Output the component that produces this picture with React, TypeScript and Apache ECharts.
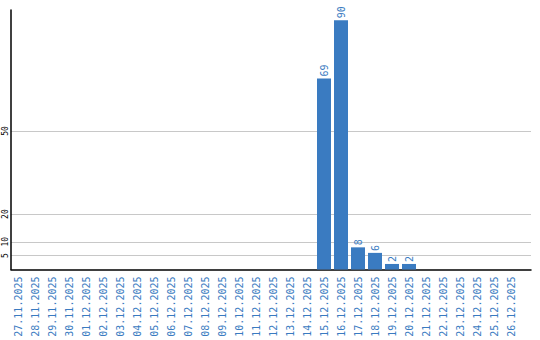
import React, { useEffect, useRef } from "react";
import * as echarts from "echarts";

const categories: string[] = [
  "27.11.2025", "28.11.2025", "29.11.2025", "30.11.2025",
  "01.12.2025", "02.12.2025", "03.12.2025", "04.12.2025", "05.12.2025",
  "06.12.2025", "07.12.2025", "08.12.2025", "09.12.2025", "10.12.2025",
  "11.12.2025", "12.12.2025", "13.12.2025", "14.12.2025", "15.12.2025",
  "16.12.2025", "17.12.2025", "18.12.2025", "19.12.2025", "20.12.2025",
  "21.12.2025", "22.12.2025", "23.12.2025", "24.12.2025", "25.12.2025",
  "26.12.2025",
];
const values: number[] = [
  0, 0, 0, 0, 0, 0, 0, 0, 0, 0, 0, 0, 0, 0, 0, 0, 0, 0,
  69, 90, 8, 6, 2, 2, 0, 0, 0, 0, 0, 0,
];
const yTicks: number[] = [5, 10, 20, 50];
const yMax = 93.7;

const BLUE = "#3a7bc1";
const MONO = "DejaVu Sans Mono";

export default function App() {
  const ref = useRef<HTMLDivElement>(null);
  useEffect(() => {
    if (!ref.current) return;
    const chart = echarts.init(ref.current, null, { renderer: "svg" });
    chart.setOption({
      animation: false,
      backgroundColor: "#ffffff",
      grid: [
        { left: 11, width: 520, top: 10, height: 259.5 },
        { left: 9.5, width: 510, top: 10, height: 259.5 },
      ],
      xAxis: [
        {
          gridIndex: 0,
          type: "value",
          min: 0,
          max: 1,
          axisLine: { show: true, onZero: false, lineStyle: { color: "#000", width: 1.5 } },
          axisTick: { show: false },
          axisLabel: { show: false },
          splitLine: { show: false },
        },
        {
          gridIndex: 1,
          type: "category",
          data: categories,
          axisLine: { show: false },
          axisTick: { show: false },
          splitLine: { show: false },
          axisLabel: {
            interval: 0,
            rotate: 90,
            margin: 7,
            color: BLUE,
            fontFamily: MONO,
            fontSize: 10,
          },
        },
      ],
      yAxis: [
        {
          gridIndex: 0,
          type: "value",
          min: 0,
          max: yMax,
          axisLine: { show: true, lineStyle: { color: "#000", width: 1.5 } },
          axisTick: { show: false, customValues: yTicks },
          axisLabel: {
            customValues: yTicks,
            rotate: 90,
            margin: 2,
            color: "#000",
            fontFamily: MONO,
            fontSize: 8,
          },
          splitLine: { show: true, lineStyle: { color: "#c8c8c8", width: 1 } },
        },
        {
          gridIndex: 1,
          type: "value",
          min: 0,
          max: yMax,
          show: false,
          splitLine: { show: false },
        },
      ],
      series: [
        {
          type: "bar",
          xAxisIndex: 1,
          yAxisIndex: 1,
          data: values,
          barWidth: 14,
          itemStyle: { color: BLUE },
          label: {
            show: true,
            position: "top",
            rotate: 90,
            align: "left",
            verticalAlign: "middle",
            distance: 2,
            color: BLUE,
            fontFamily: MONO,
            fontSize: 10,
            formatter: (p: any) => (p.value ? String(p.value) : ""),
          },
        },
      ],
    });
    return () => chart.dispose();
  }, []);
  return <div ref={ref} style={{ width: 540, height: 340, position: "absolute", left: 0, top: 0 }} />;
}
